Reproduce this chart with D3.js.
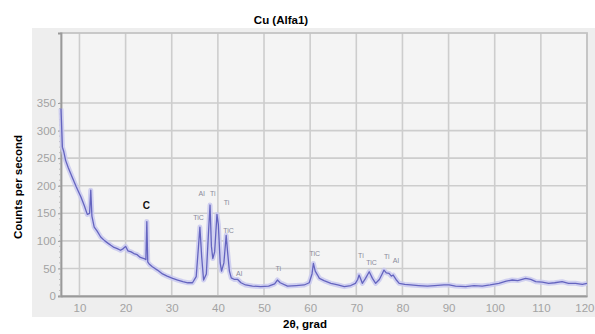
<!DOCTYPE html>
<html><head><meta charset="utf-8">
<script src="https://cdn.jsdelivr.net/npm/d3@7"></script>
<style>body{margin:0;background:#fff}svg{display:block}</style>
</head><body>
<script>
const twoTheta = [6.0,6.3,6.6,7.0,7.6,8.5,9.3,10.3,11.0,11.7,12.2,12.45,12.7,13.2,13.8,14.6,15.5,16.3,16.8,17.5,18.2,18.9,19.5,20.0,20.5,21.2,21.8,22.5,23.2,24.0,24.4,24.6,24.8,25.1,25.8,26.9,28.0,29.0,30.2,31.3,32.4,33.5,34.5,35.3,35.8,36.1,36.5,36.9,37.5,38.0,38.3,38.6,38.9,39.3,39.8,40.1,40.5,40.8,41.3,41.8,42.1,42.5,42.9,43.6,44.3,45.0,46.0,47.5,49.3,51.0,52.3,52.9,53.5,55.1,57.0,58.7,59.8,60.4,60.7,61.1,61.6,62.0,63.0,64.5,66.0,67.4,68.8,69.8,70.3,70.6,71.0,71.3,72.0,72.8,73.5,74.2,75.0,75.6,76.0,76.5,77.1,77.6,78.0,78.6,79.3,80.5,81.8,83.5,85.4,87.0,89.0,90.1,91.5,93.7,95.5,97.3,99.0,100.9,102.5,103.8,105.0,106.7,107.8,108.9,110.3,111.7,113.0,114.6,116.0,117.5,119.0,120.0];
const counts = [340,270,262,246,232,214,198,180,165,148,150,192,145,125,118,107,100,95,92,88,86,83,86,90,82,80,77,75,70,68,66,135,62,58,53,47,40,36,32,29,26,24,24,35,90,125,70,29,40,120,165,90,68,80,148,130,60,45,60,110,80,45,33,30,30,24,20,18,17,18,22,29,24,18,19,20,24,40,59,45,38,32,28,23,20,17,19,23,30,38,30,23,32,44,32,23,30,40,47,42,41,36,38,30,23,21,20,19,18,19,20,20,18,17,19,18,20,23,27,29,28,32,30,26,25,23,24,26,23,23,21,23];

const xTicks = [10,20,30,40,50,60,70,80,90,100,110,120];
const yTicks = [0,50,100,150,200,250,300,350];

const peakText   = ["TiC","Al","Ti","Ti","TiC","Al","Ti","TiC","Ti","TiC","Ti","Al"];
const peakTheta  = [35.8,36.5,38.9,41.9,42.3,44.6,53.1,61.0,71.0,73.3,76.6,78.6];
const peakCounts = [141,185,185,168,117,40,48,76,72,60,71,63];

const markText = ["C"], markTheta = [24.5], markCounts = [163];

const W = 595, H = 334;
const L = 61, R = 587, T = 33, B = 296;
const svg = d3.select("body").append("svg").attr("width", W).attr("height", H)
  .style("font-family","Arial, 'Liberation Sans', sans-serif");

const x = d3.scaleLinear().domain([6,120]).range([L,R]);
const y = d3.scaleLinear().domain([0,477]).range([B,T]);

// panel
svg.append("rect").attr("x",32).attr("y",28).attr("width",W-32).attr("height",289).attr("fill","#eeeeee");
svg.append("rect").attr("x",L).attr("y",T).attr("width",R-L).attr("height",B-T).attr("fill","#f4f4f4");

// grid
svg.append("g").selectAll("line").data(xTicks).join("line")
  .attr("x1",d=>x(d)).attr("x2",d=>x(d)).attr("y1",T).attr("y2",B)
  .attr("stroke","#cdcdcd").attr("stroke-width",1.6);
svg.append("g").selectAll("line").data(yTicks).join("line")
  .attr("x1",L).attr("x2",R).attr("y1",d=>y(d)).attr("y2",d=>y(d))
  .attr("stroke","#cdcdcd").attr("stroke-width",1.6);
svg.append("rect").attr("x",L).attr("y",T).attr("width",R-L).attr("height",B-T)
  .attr("fill","none").attr("stroke","#c4c4c4").attr("stroke-width",1.8);

// axes
const yAxis = svg.append("g").attr("transform",`translate(${L},0)`)
  .call(d3.axisLeft(y).tickValues(yTicks).tickSize(3).tickPadding(2));
const xAxis = svg.append("g").attr("transform",`translate(0,${B})`)
  .call(d3.axisBottom(x).tickValues(xTicks).tickSize(0).tickPadding(8));
[yAxis,xAxis].forEach(g=>{
  g.select(".domain").attr("stroke","#9a9a9a").attr("stroke-width",1.8);
  g.selectAll(".tick line").attr("stroke","#9a9a9a");
  g.selectAll("text").attr("fill","#a3a3a3").attr("font-size",11.5).attr("font-family","Arial, 'Liberation Sans', sans-serif");
});
// keep the last x label inside the picture
xAxis.selectAll(".tick text").filter(d=>d===120).attr("text-anchor","end").attr("dx",(W-1-x(120))+"px");
// minor ticks on y axis
svg.append("g").selectAll("line").data(d3.range(0,351,10)).join("line")
  .attr("x1",L-2).attr("x2",L).attr("y1",d=>y(d)).attr("y2",d=>y(d))
  .attr("stroke","#b0b0b0").attr("stroke-width",0.8);

// data
const pts = twoTheta.map((t,i)=>[t,counts[i]]);
const line = d3.line().x(d=>x(d[0])).y(d=>y(d[1]));
svg.append("path").datum(pts).attr("d",line).attr("fill","none")
  .attr("stroke","#c9c9ef").attr("stroke-width",5).attr("stroke-linejoin","round").attr("opacity",0.85);
svg.append("path").datum(pts).attr("d",line).attr("fill","none")
  .attr("stroke","#6464bf").attr("stroke-width",1.3).attr("stroke-linejoin","round");

// peak labels
svg.append("g").selectAll("text").data(peakText).join("text")
  .attr("x",(d,i)=>x(peakTheta[i])).attr("y",(d,i)=>y(peakCounts[i]))
  .attr("text-anchor","middle").attr("dominant-baseline","middle")
  .attr("font-size",7).attr("fill","#8a8a9a").text(d=>d);
svg.append("g").selectAll("text").data(markText).join("text")
  .attr("x",(d,i)=>x(markTheta[i])).attr("y",(d,i)=>y(markCounts[i]))
  .attr("text-anchor","middle").attr("dominant-baseline","middle")
  .attr("font-size",10).attr("font-weight","bold").attr("fill","#111").text(d=>d);

// titles
svg.append("text").attr("x",281).attr("y",24).attr("text-anchor","middle")
  .attr("font-size",11.5).attr("font-weight","bold").text("Cu (Alfa1)");
svg.append("text").attr("transform","translate(22,187) rotate(-90)").attr("text-anchor","middle")
  .attr("font-size",11.5).attr("font-weight","bold").text("Counts per second");
svg.append("text").attr("x",305).attr("y",328).attr("text-anchor","middle")
  .attr("font-size",11.5).attr("font-weight","bold").text("2θ, grad");
</script>
</body></html>
